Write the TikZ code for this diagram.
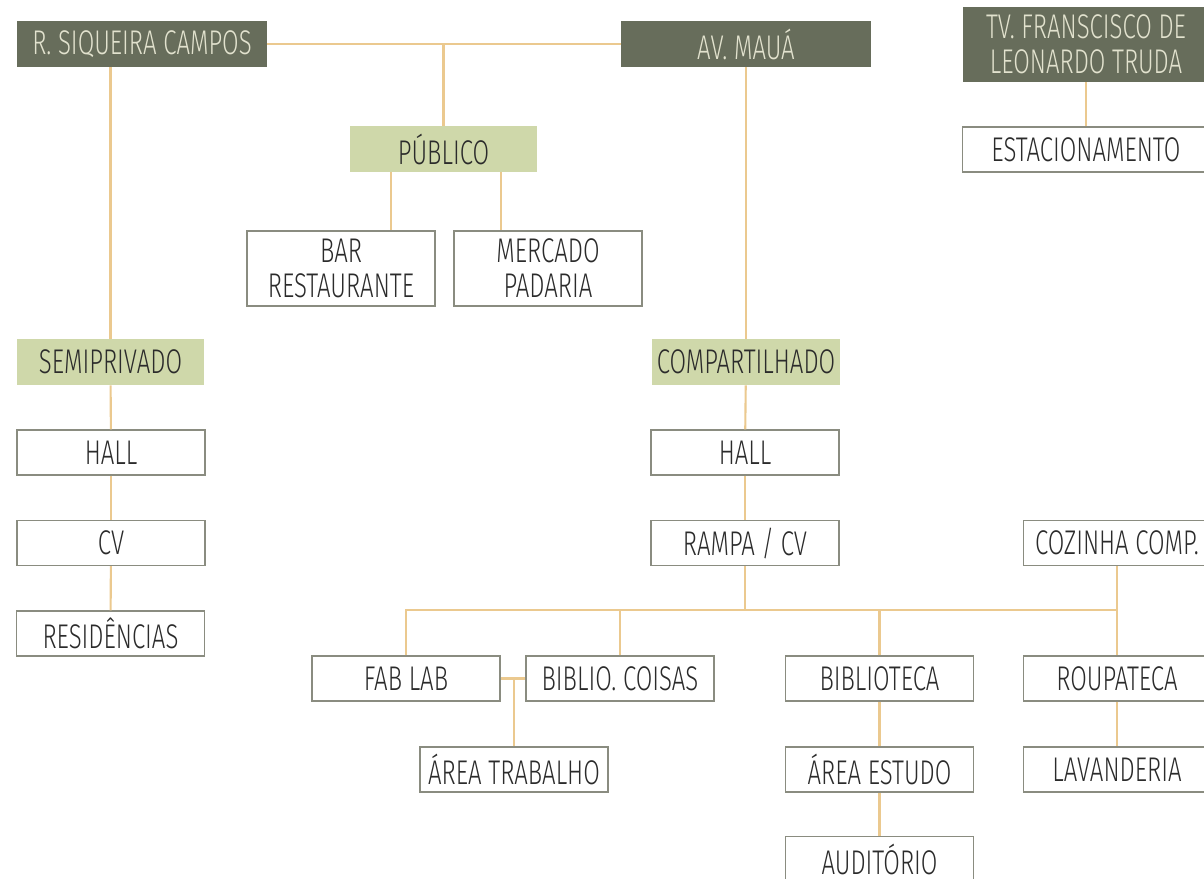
\documentclass[tikz,border=0pt]{standalone}
\usepackage{fontspec}
\setmainfont{Fira Sans Light}[FakeStretch=0.7]
\usetikzlibrary{positioning, calc}
\definecolor{ruaolive}{HTML}{676D5B}
\definecolor{ruatext}{HTML}{E2E2CE}
\definecolor{zonagreen}{HTML}{CFD8AA}
\definecolor{linkgold}{HTML}{EBC98F}
\definecolor{boxgray}{HTML}{8A8C80}
\definecolor{inkdark}{HTML}{2B2B2B}

\begin{document}
\begin{tikzpicture}[x=0.02cm, y=-0.02cm,
  every node/.style={font=\fontsize{19.5}{20}\selectfont, inner sep=0pt, align=center},
  rua/.style={fill=ruaolive, text=ruatext, minimum width=5cm, minimum height=0.92cm},
  zona/.style={fill=zonagreen, text=inkdark, minimum width=3.76cm, minimum height=0.92cm},
  sala/.style={draw=boxgray, line width=0.6pt, fill=white, text=inkdark,
               minimum width=3.76cm, minimum height=0.9cm},
  link/.style={draw=linkgold, line width=1.2pt},
]
\useasboundingbox (0,0) rectangle (1204,879);

% streets
\node[rua] (rsc) at (142,44)  {R. SIQUEIRA CAMPOS};
\node[rua] (mau) at (746,44)  {AV. MAUÁ};
\node[rua, minimum width=4.92cm, minimum height=1.5cm] (tv) at (1086,44.5)
  {TV. FRANSCISCO DE\\LEONARDO TRUDA};
\node[sala, minimum width=4.96cm] (est) at (1086,149.5) {ESTACIONAMENTO};

% public
\node[zona] (pub) at (443.5,149) {PÚBLICO};
\node[sala, minimum height=1.5cm] (bar) at (341,268.5) {BAR\\RESTAURANTE};
\node[sala, minimum height=1.5cm] (merc) at (548,268.5) {MERCADO\\PADARIA};

% semiprivate
\node[zona]  (semi)  at (110.5,362) {SEMIPRIVADO};
\node[sala]  (hallA) at (111,452.5) {HALL};
\node[sala]  (cvA)   at (111,543)   {CV};
\node[sala]  (res)   at (110.5,633.5) {RESIDÊNCIAS};

% shared
\node[zona]  (comp)  at (746,362)   {COMPARTILHADO};
\node[sala]  (hallB) at (745,452.5) {HALL};
\node[sala]  (rampa) at (745,543)   {RAMPA / CV};
\node[sala]  (coz)   at (1117,543)  {COZINHA COMP.};
\node[sala]  (fab)   at (406,678.5) {FAB LAB};
\node[sala]  (bibc)  at (620,678.5) {BIBLIO. COISAS};
\node[sala]  (atrab) at (514,769.5) {ÁREA TRABALHO};
\node[sala]  (bibl)  at (879.5,678.5) {BIBLIOTECA};
\node[sala]  (aest)  at (879.5,769.5) {ÁREA ESTUDO};
\node[sala]  (aud)   at (879.5,859) {AUDITÓRIO};
\node[sala]  (roup)  at (1117,678.5) {ROUPATECA};
\node[sala]  (lav)   at (1117,769.5) {LAVANDERIA};
\coordinate (bus) at (746,610);

% connectors
\draw[link] (rsc.east) -- (mau.west);
\draw[link] (pub.north) -- (pub.north |- rsc.east);
\draw[link] ([xshift=-1.05cm]pub.south) -- ([xshift=-1.05cm]pub.south |- bar.north);
\draw[link] ([xshift=1.15cm]pub.south) -- ([xshift=1.15cm]pub.south |- merc.north);
\draw[link] (tv.south) -- (est.north);

\draw[link] (semi.north) -- (semi.north |- rsc.south);
\draw[link] (semi) -- (hallA);
\draw[link] (hallA) -- (cvA);
\draw[link] (cvA) -- (res);

\draw[link] (comp.north) -- (comp.north |- mau.south);
\draw[link] (comp) -- (hallB);
\draw[link] (hallB) -- (rampa);
\draw[link] (rampa.south) -- (rampa.south |- bus);
\draw[link] (fab.north) -- (fab.north |- bus) -- (coz.south |- bus) -- (coz.south);
\draw[link] (bibc.north) -- (bibc.north |- bus);
\draw[link] (bibl.north) -- (bibl.north |- bus);
\draw[link] (coz.south |- bus) -- (roup.north);
\draw[link] (fab.east) -- (bibc.west);
\draw[link] (atrab.north) -- (atrab.north |- fab.east);
\draw[link] (bibl) -- (aest);
\draw[link] (aest) -- (aud);
\draw[link] (roup) -- (lav);
\end{tikzpicture}
\end{document}
